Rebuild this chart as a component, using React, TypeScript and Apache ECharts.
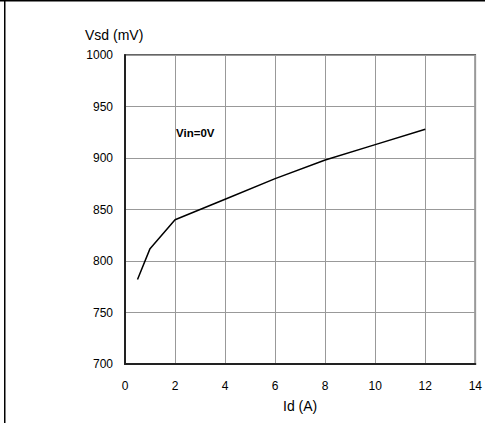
import React, { useEffect, useRef } from "react";
import * as echarts from "echarts";

const xValues = [0.5, 1, 2, 4, 6, 8, 10, 12];
const vsdValues = [782, 812, 840, 860, 880, 898, 913, 928];
const xAxisName = "Id (A)";
const yAxisName = "Vsd (mV)";
const annotation = "Vin=0V";

export default function App() {
  const ref = useRef<HTMLDivElement>(null);
  useEffect(() => {
    if (!ref.current) return;
    const chart = echarts.init(ref.current, null, { renderer: "svg" });
    const font = "Liberation Sans, Arial, sans-serif";
    chart.setOption({
      animation: false,
      backgroundColor: "#ffffff",
      grid: { left: 125, top: 55, width: 351, height: 309, show: true, borderColor: "#333", borderWidth: 1.5, backgroundColor: "transparent" },
      xAxis: {
        type: "value",
        min: 0,
        max: 14,
        interval: 2,
        name: xAxisName,
        nameLocation: "middle",
        nameGap: 35,
        nameTextStyle: { fontFamily: font, fontSize: 14, color: "#000" },
        axisLine: { show: true, lineStyle: { color: "#222", width: 2 } },
        axisTick: { show: false },
        axisLabel: { fontFamily: font, fontSize: 12, color: "#000", margin: 16 },
        splitLine: { show: true, lineStyle: { color: "#999", width: 1 } },
      },
      yAxis: {
        type: "value",
        min: 700,
        max: 1000,
        interval: 50,
        axisLine: { show: true, lineStyle: { color: "#222", width: 2 } },
        axisTick: { show: false },
        axisLabel: { fontFamily: font, fontSize: 12, color: "#000", margin: 12, formatter: (v: number) => String(v) },
        splitLine: { show: true, lineStyle: { color: "#999", width: 1 } },
      },
      graphic: [
        { type: "rect", shape: { x: 0, y: 0, width: 485, height: 1.5 }, style: { fill: "#000" } },
        { type: "rect", shape: { x: 4, y: 0, width: 1.5, height: 423 }, style: { fill: "#000" } },
        { type: "text", x: 85, y: 28, style: { text: yAxisName, font: `14px ${font}`, fill: "#000" } },
        { type: "text", x: 176, y: 127, style: { text: annotation, font: `bold 11.5px ${font}`, fill: "#000" } },
      ],
      series: [
        {
          type: "line",
          data: xValues.map((x, i) => [x, vsdValues[i]]),
          showSymbol: false,
          lineStyle: { color: "#000", width: 1.5 },
        },
      ],
    });
    return () => chart.dispose();
  }, []);
  return <div ref={ref} style={{ position: "fixed", left: 0, top: 0, width: 485, height: 423 }} />;
}
